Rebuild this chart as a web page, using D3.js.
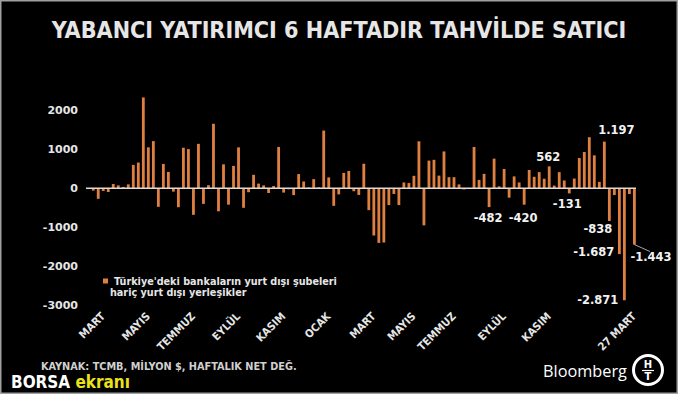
<!DOCTYPE html>
<html>
<head>
<meta charset="utf-8">
<script src="https://cdn.jsdelivr.net/npm/d3@7"></script>
<style>
  html, body { margin: 0; padding: 0; background: #000; }
  svg { display: block; }
</style>
</head>
<body>
<div id="chart"></div>
<script>
// weekly net flows of foreign investors into bonds (million $)
var weeks = d3.range(1, 111);
var flows = [
  -20, -60, -270, -70, -95, 110, 75, 35, 100, 600,
  660, 2330, 1050, 1210, -475, 625, 420, -85, -485, 1040,
  1005, -680, 1140, -400, 80, 1655, -590, 615, -420, 575,
  1050, -500, -100, 345, 120, 75, -120, 60, 1060, -110,
  -25, -175, 365, 175, 20, 235, 25, 1480, 280, -450,
  -155, 395, 445, -75, -170, 630, -560, -1210, -1400, -1390,
  -430, -145, -430, 150, 135, 320, 1205, -950, 710, 730,
  325, 945, 285, 285, 100, -30, -10, 1060, 215, 370,
  -482, 760, 50, 495, -240, 305, 150, -420, 470, 295,
  415, 245, 562, 70, 414, 200, -131, 250, 776, 930,
  1310, 845, 164, 1197, -838, -172, -1687, -2871, -147, -1443
];
var yTicks = [-3000, -2000, -1000, 0, 1000, 2000];
var monthLabels = ["MART", "MAYIS", "TEMMUZ", "EYLÜL", "KASIM", "OCAK",
                   "MART", "MAYIS", "TEMMUZ", "EYLÜL", "KASIM", "27 MART"];
var monthWeeks = [4, 13, 22, 31, 40, 49, 58, 66, 74, 84, 93, 110];
var noteWeeks = [104, 93, 97, 81, 88, 105, 107, 108, 110];

var W = 678, H = 394;
var txt = "#e6e6e6";
var barColor = "#df8040";

var tr = d3.formatLocale({decimal: ",", thousands: ".", grouping: [3], currency: ["", "$"], minus: "-"});
var fmtNote = tr.format(",d");
var fmtTick = tr.format("d");

var svg = d3.select("#chart").append("svg")
  .attr("width", W).attr("height", H)
  .style("background", "#000");

// frame
svg.append("rect")
  .attr("x", 0.75).attr("y", 0.75)
  .attr("width", W - 1.5).attr("height", H - 1.5)
  .attr("fill", "none").attr("stroke", "#a0a0a0").attr("stroke-width", 1.5);

// shrink/grow a text so it spans a given width
function fitWidth(sel, target) {
  var fs = parseFloat(sel.style("font-size"));
  var w = sel.node().getComputedTextLength();
  sel.style("font-size", (fs * target / w) + "px");
}

// title
var title = svg.append("text")
  .attr("x", 339).attr("y", 37.5)
  .attr("text-anchor", "middle")
  .style("font-family", "DejaVu Sans Condensed, DejaVu Sans, sans-serif")
  .style("font-weight", "bold")
  .style("font-size", "20px")
  .style("fill", txt)
  .text("YABANCI YATIRIMCI 6 HAFTADIR TAHVİLDE SATICI");
fitWidth(title, 575);

// scales
var x = d3.scaleBand().domain(weeks).range([86.8, 635.8]).paddingInner(0.44);
var y = d3.scaleLinear().domain([-3000, 2000]).range([305.3, 110.3]);
var cx = function(w) { return x(w) + x.bandwidth() / 2; };

// y axis, labels only
var yAxis = svg.append("g")
  .attr("transform", "translate(78,0)")
  .call(d3.axisLeft(y).tickValues(yTicks).tickSize(0).tickPadding(0).tickFormat(fmtTick));
yAxis.select(".domain").remove();
yAxis.selectAll("text")
  .style("font-family", "DejaVu Sans, sans-serif")
  .style("font-weight", "bold")
  .style("font-size", "11px")
  .style("fill", txt);

// bars
svg.append("g").selectAll("rect")
  .data(weeks)
  .enter().append("rect")
  .attr("x", function(w) { return x(w); })
  .attr("width", x.bandwidth())
  .attr("y", function(w, i) { return y(Math.max(0, flows[i])); })
  .attr("height", function(w, i) { return Math.abs(y(flows[i]) - y(0)); })
  .attr("fill", barColor);

// zero line
svg.append("line")
  .attr("x1", 86).attr("x2", 636)
  .attr("y1", y(0)).attr("y2", y(0))
  .attr("stroke", "#dcdcdc").attr("stroke-width", 1.6);

// month labels on the bottom, rotated
svg.append("g").selectAll("text")
  .data(monthLabels)
  .enter().append("text")
  .attr("transform", function(d, i) {
    return "translate(" + (cx(monthWeeks[i]) + 2.5) + ",317) rotate(-45)";
  })
  .attr("text-anchor", "end")
  .style("font-family", "DejaVu Sans Condensed, DejaVu Sans, sans-serif")
  .style("font-weight", "bold")
  .style("font-size", "11px")
  .style("fill", txt)
  .text(function(d) { return d; });

// value notes (dx, baseline y, anchor)
var notePos = {
  104: [12, 134, "middle"],
  93:  [-1, 161, "middle"],
  97:  [-2, 208, "middle"],
  81:  [-1, 222, "middle"],
  88:  [-1, 222, "middle"],
  105: [3, 233, "end"],
  107: [-5, 256, "end"],
  108: [-6, 303.5, "end"],
  110: [-4, 261, "start"]
};
var noteIndex = function(w) { return weeks.indexOf(w); };
svg.append("g").selectAll("text")
  .data(noteWeeks)
  .enter().append("text")
  .attr("x", function(w) { return cx(w) + notePos[w][0]; })
  .attr("y", function(w) { return notePos[w][1]; })
  .attr("text-anchor", function(w) { return notePos[w][2]; })
  .style("font-family", "DejaVu Sans, sans-serif")
  .style("font-weight", "bold")
  .style("font-size", "11.5px")
  .style("fill", "#f2f2f2")
  .text(function(w) { return fmtNote(flows[noteIndex(w)]); });

// leader for last bar
svg.append("line")
  .attr("x1", cx(110)).attr("y1", y(flows[noteIndex(110)]))
  .attr("x2", 650).attr("y2", 251.5)
  .attr("stroke", "#cfcfcf").attr("stroke-width", 0.8);

// legend
svg.append("rect")
  .attr("x", 103).attr("y", 278.5).attr("width", 5).attr("height", 5)
  .attr("fill", barColor);
var leg1 = svg.append("text")
  .attr("x", 114).attr("y", 284.5)
  .style("font-family", "DejaVu Sans Condensed, DejaVu Sans, sans-serif")
  .style("font-weight", "bold").style("font-size", "10.5px")
  .style("fill", txt)
  .text("Türkiye'deki bankaların yurt dışı şubeleri");
fitWidth(leg1, 223);
var leg2 = svg.append("text")
  .attr("x", 110).attr("y", 296)
  .style("font-family", "DejaVu Sans Condensed, DejaVu Sans, sans-serif")
  .style("font-weight", "bold").style("font-size", leg1.style("font-size"))
  .style("fill", txt)
  .text("hariç yurt dışı yerleşikler");

// source
var src = svg.append("text")
  .attr("x", 41).attr("y", 370)
  .style("font-family", "DejaVu Sans Condensed, DejaVu Sans, sans-serif")
  .style("font-weight", "bold").style("font-size", "10px")
  .style("fill", "#d0d0d0")
  .text("KAYNAK: TCMB, MİLYON $, HAFTALIK NET DEĞ.");
fitWidth(src, 256);

// BORSA ekranı mark
var borsa = svg.append("text")
  .attr("x", 11).attr("y", 388)
  .style("font-family", "DejaVu Sans Condensed, DejaVu Sans, sans-serif")
  .style("font-weight", "bold").style("font-size", "17px");
borsa.append("tspan").style("fill", "#ffffff").text("BORSA ");
borsa.append("tspan").style("fill", "#ece21c").text("ekranı");
fitWidth(borsa, 119);

// Bloomberg + HT logo
var bb = svg.append("text")
  .attr("x", 543).attr("y", 377)
  .style("font-family", "Open Sans, DejaVu Sans, sans-serif")
  .style("font-size", "17px")
  .style("fill", "#ffffff")
  .text("Bloomberg");
fitWidth(bb, 84);

var logo = svg.append("g").attr("transform", "translate(648,370)");
logo.append("circle").attr("r", 14.5)
  .attr("fill", "#000").attr("stroke", "#fff").attr("stroke-width", 3);
logo.append("text").attr("y", -2).attr("text-anchor", "middle")
  .style("font-family", "DejaVu Sans, sans-serif").style("font-weight", "bold")
  .style("font-size", "10px").style("fill", "#fff").text("H");
logo.append("text").attr("y", 10).attr("text-anchor", "middle")
  .style("font-family", "DejaVu Sans, sans-serif").style("font-weight", "bold")
  .style("font-size", "10px").style("fill", "#fff").text("T");
logo.append("line").attr("x1", -6).attr("x2", 6).attr("y1", 0.5).attr("y2", 0.5)
  .attr("stroke", "#fff").attr("stroke-width", 1.2);
</script>
</body>
</html>
